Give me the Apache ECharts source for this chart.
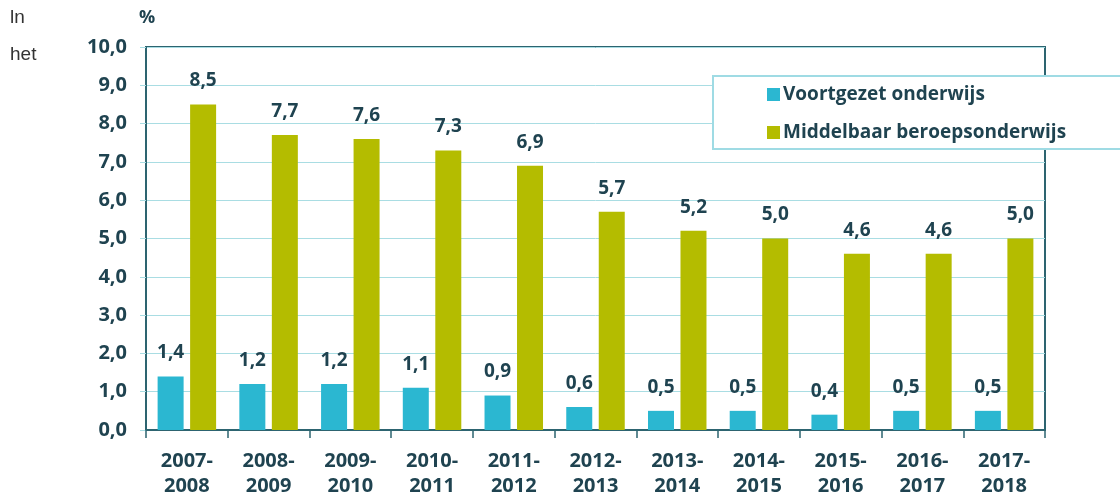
<!DOCTYPE html>
<html>
<head>
<meta charset="utf-8">
<script src="https://cdn.jsdelivr.net/npm/echarts@6/dist/echarts.min.js"></script>
<style>
  html, body { margin: 0; padding: 0; background: #fff; }
  #chart { width: 1120px; height: 497px; }
</style>
</head>
<body>
<div id="chart"></div>
<script>
const categories = ['2007-\n2008', '2008-\n2009', '2009-\n2010', '2010-\n2011', '2011-\n2012', '2012-\n2013',
  '2013-\n2014', '2014-\n2015', '2015-\n2016', '2016-\n2017', '2017-\n2018']
const voortgezet = [1.4, 1.2, 1.2, 1.1, 0.9, 0.6, 0.5, 0.5, 0.4, 0.5, 0.5]
const mbo = [8.5, 7.7, 7.6, 7.3, 6.9, 5.7, 5.2, 5.0, 4.6, 4.6, 5.0]
const seriesNames = ['Voortgezet onderwijs', 'Middelbaar beroepsonderwijs']

const dark = '#1f4350'
const axisDark = '#2d6470'
const gridLight = '#a9dde3'
const font = '"Open Sans", "Noto Sans", sans-serif'

const chart = echarts.init(document.getElementById('chart'))

const fmt = v => v.toFixed(1).replace('.', ',')

const labelStyle = {
  show: true,
  position: 'top',
  distance: 14,
  fontFamily: font,
  fontWeight: 'bold',
  fontSize: 19,
  color: dark,
  formatter: p => fmt(p.value)
}

chart.setOption({
  animation: false,
  backgroundColor: '#fff',
  grid: {
    left: 146, right: 75, top: 47, bottom: 67,
    outerBoundsMode: 'none',
    show: true, borderColor: axisDark, borderWidth: 2
  },
  graphic: [
    { type: 'text', left: 10, top: 8, style: { text: 'ln', fontFamily: 'Arial, "Liberation Sans", sans-serif', fontSize: 19, fill: '#333' } },
    { type: 'text', left: 10, top: 45, style: { text: 'het', fontFamily: 'Arial, "Liberation Sans", sans-serif', fontSize: 19, fill: '#333' } },
    { type: 'text', left: 139, top: 9, style: { text: '%', fontFamily: font, fontWeight: 'bold', fontSize: 18, fill: dark } },
    { type: 'rect', z: 50, shape: { x: 713, y: 76, width: 420, height: 73 }, style: { fill: '#fff', stroke: '#9fdbe4', lineWidth: 2 } }
  ],
  legend: {
    z: 60,
    orient: 'vertical',
    left: 762,
    top: 80,
    itemWidth: 13,
    itemHeight: 13,
    itemGap: 19,
    icon: 'rect',
    data: seriesNames,
    textStyle: { fontFamily: font, fontWeight: 'bold', fontSize: 19, color: dark, padding: [0, 0, 0, -2] }
  },
  xAxis: {
    type: 'category',
    data: categories,
    axisLine: { lineStyle: { color: axisDark, width: 2 } },
    axisTick: { show: true, length: 8, lineStyle: { color: axisDark, width: 1.5 } },
    axisLabel: { fontFamily: font, fontWeight: 'bold', fontSize: 20, color: dark, lineHeight: 25, margin: 19 }
  },
  yAxis: {
    type: 'value',
    min: 0,
    max: 10,
    interval: 1,
    axisLine: { show: true, lineStyle: { color: axisDark, width: 2 } },
    axisTick: { show: true, length: 6, lineStyle: { color: gridLight } },
    splitLine: { lineStyle: { color: gridLight, width: 1 } },
    axisLabel: { fontFamily: font, fontWeight: 'bold', fontSize: 20, color: dark, margin: 19, formatter: v => fmt(v) }
  },
  series: [
    {
      name: seriesNames[0],
      type: 'bar',
      data: voortgezet,
      barWidth: 26,
      barGap: '25%',
      itemStyle: { color: '#2bb7d1' },
      label: labelStyle
    },
    {
      name: seriesNames[1],
      type: 'bar',
      data: mbo,
      barWidth: 26,
      itemStyle: { color: '#b4bc00' },
      label: labelStyle
    }
  ]
})

window.addEventListener('resize', () => chart.resize())
</script>
</body>
</html>
